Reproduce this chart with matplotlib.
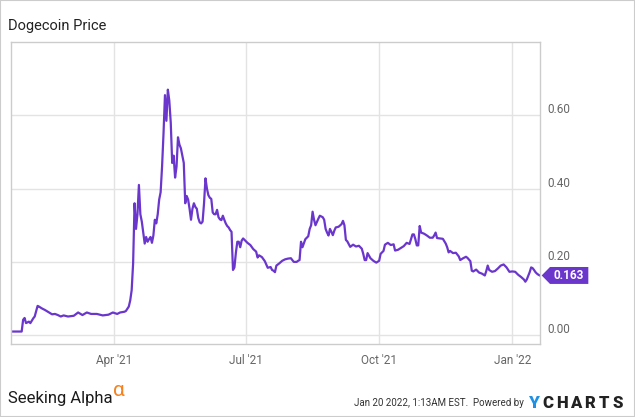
import matplotlib
matplotlib.use("Agg")
import matplotlib.pyplot as plt
import pandas as pd
from matplotlib.patches import Polygon, Rectangle
from matplotlib.transforms import Affine2D, ScaledTranslation, blended_transform_factory

# Dogecoin daily close (USD)
dates = [
    "2021-01-20", "2021-01-23", "2021-01-27", "2021-01-28", "2021-01-29", "2021-01-30",
    "2021-02-01", "2021-02-02", "2021-02-04", "2021-02-05", "2021-02-07", "2021-02-08",
    "2021-02-10", "2021-02-12", "2021-02-15", "2021-02-17", "2021-02-19", "2021-02-21",
    "2021-02-23", "2021-02-25", "2021-02-28", "2021-03-04", "2021-03-07", "2021-03-10",
    "2021-03-13", "2021-03-16", "2021-03-20", "2021-03-24", "2021-03-28", "2021-03-31",
    "2021-04-03", "2021-04-05", "2021-04-08", "2021-04-09", "2021-04-10", "2021-04-11",
    "2021-04-12", "2021-04-13", "2021-04-14", "2021-04-15", "2021-04-16", "2021-04-17",
    "2021-04-18", "2021-04-19", "2021-04-20", "2021-04-21", "2021-04-22", "2021-04-23",
    "2021-04-24", "2021-04-25", "2021-04-26", "2021-04-27", "2021-04-28", "2021-04-29",
    "2021-04-30", "2021-05-01", "2021-05-02", "2021-05-03", "2021-05-04", "2021-05-05",
    "2021-05-06", "2021-05-07", "2021-05-08", "2021-05-09", "2021-05-10", "2021-05-11",
    "2021-05-12", "2021-05-13", "2021-05-14", "2021-05-15", "2021-05-16", "2021-05-17",
    "2021-05-18", "2021-05-19", "2021-05-20", "2021-05-21", "2021-05-22", "2021-05-23",
    "2021-05-24", "2021-05-25", "2021-05-26", "2021-05-27", "2021-05-28", "2021-05-29",
    "2021-05-30", "2021-05-31", "2021-06-01", "2021-06-02", "2021-06-03", "2021-06-04",
    "2021-06-05", "2021-06-06", "2021-06-07", "2021-06-08", "2021-06-09", "2021-06-10",
    "2021-06-11", "2021-06-12", "2021-06-13", "2021-06-14", "2021-06-15", "2021-06-16",
    "2021-06-17", "2021-06-18", "2021-06-19", "2021-06-20", "2021-06-21", "2021-06-22",
    "2021-06-23", "2021-06-24", "2021-06-25", "2021-06-26", "2021-06-27", "2021-06-28",
    "2021-06-29", "2021-06-30", "2021-07-02", "2021-07-04", "2021-07-06", "2021-07-08",
    "2021-07-09", "2021-07-10", "2021-07-12", "2021-07-14", "2021-07-16", "2021-07-18",
    "2021-07-19", "2021-07-20", "2021-07-21", "2021-07-22", "2021-07-24", "2021-07-26",
    "2021-07-28", "2021-07-30", "2021-08-01", "2021-08-03", "2021-08-05", "2021-08-06",
    "2021-08-07", "2021-08-08", "2021-08-09", "2021-08-11", "2021-08-13", "2021-08-14",
    "2021-08-15", "2021-08-16", "2021-08-17", "2021-08-18", "2021-08-20", "2021-08-21",
    "2021-08-23", "2021-08-24", "2021-08-25", "2021-08-26", "2021-08-27", "2021-08-28",
    "2021-08-29", "2021-08-30", "2021-08-31", "2021-09-01", "2021-09-03", "2021-09-05",
    "2021-09-06", "2021-09-07", "2021-09-08", "2021-09-09", "2021-09-11", "2021-09-13",
    "2021-09-15", "2021-09-17", "2021-09-19", "2021-09-20", "2021-09-21", "2021-09-22",
    "2021-09-23", "2021-09-25", "2021-09-27", "2021-09-29", "2021-10-01", "2021-10-02",
    "2021-10-04", "2021-10-05", "2021-10-07", "2021-10-09", "2021-10-11", "2021-10-12",
    "2021-10-14", "2021-10-16", "2021-10-18", "2021-10-20", "2021-10-22", "2021-10-24",
    "2021-10-25", "2021-10-26", "2021-10-27", "2021-10-28", "2021-10-29", "2021-10-30",
    "2021-11-01", "2021-11-03", "2021-11-05", "2021-11-07", "2021-11-08", "2021-11-09",
    "2021-11-10", "2021-11-12", "2021-11-14", "2021-11-16", "2021-11-17", "2021-11-18",
    "2021-11-19", "2021-11-21", "2021-11-23", "2021-11-25", "2021-11-26", "2021-11-28",
    "2021-11-30", "2021-12-01", "2021-12-03", "2021-12-04", "2021-12-05", "2021-12-07",
    "2021-12-09", "2021-12-11", "2021-12-13", "2021-12-14", "2021-12-15", "2021-12-16",
    "2021-12-18", "2021-12-20", "2021-12-22", "2021-12-24", "2021-12-26", "2021-12-28",
    "2021-12-30", "2022-01-01", "2022-01-03", "2022-01-05", "2022-01-07", "2022-01-09",
    "2022-01-10", "2022-01-11", "2022-01-12", "2022-01-13", "2022-01-14", "2022-01-15",
    "2022-01-16", "2022-01-17", "2022-01-18", "2022-01-19", "2022-01-20",
]
prices = [
    0.010, 0.010, 0.010, 0.042, 0.047, 0.033,
    0.037, 0.033, 0.046, 0.051, 0.080, 0.078,
    0.073, 0.069, 0.062, 0.057, 0.058, 0.055,
    0.051, 0.054, 0.051, 0.053, 0.062, 0.055,
    0.062, 0.058, 0.058, 0.054, 0.056, 0.062,
    0.058, 0.062, 0.064, 0.066, 0.072, 0.078,
    0.095, 0.123, 0.196, 0.360, 0.290, 0.330,
    0.410, 0.330, 0.310, 0.280, 0.250, 0.268,
    0.255, 0.262, 0.268, 0.252, 0.272, 0.315,
    0.305, 0.330, 0.370, 0.390, 0.460, 0.550,
    0.655, 0.585, 0.670, 0.640, 0.580, 0.470,
    0.490, 0.430, 0.460, 0.540, 0.520, 0.510,
    0.490, 0.470, 0.360, 0.380, 0.370, 0.345,
    0.315, 0.345, 0.360, 0.350, 0.345, 0.320,
    0.308, 0.305, 0.310, 0.360, 0.428, 0.400,
    0.382, 0.375, 0.372, 0.335, 0.330, 0.330,
    0.342, 0.322, 0.316, 0.314, 0.326, 0.315,
    0.305, 0.298, 0.294, 0.287, 0.282, 0.178,
    0.185, 0.225, 0.255, 0.255, 0.240, 0.258,
    0.264, 0.260, 0.252, 0.246, 0.235, 0.228,
    0.212, 0.218, 0.213, 0.202, 0.184, 0.186,
    0.178, 0.176, 0.172, 0.190, 0.196, 0.203,
    0.207, 0.209, 0.210, 0.200, 0.200, 0.203,
    0.205, 0.255, 0.240, 0.262, 0.270, 0.290,
    0.300, 0.337, 0.315, 0.300, 0.318, 0.326,
    0.322, 0.315, 0.290, 0.280, 0.272, 0.290,
    0.282, 0.273, 0.285, 0.294, 0.296, 0.303,
    0.312, 0.300, 0.260, 0.256, 0.241, 0.247,
    0.242, 0.244, 0.236, 0.222, 0.205, 0.205,
    0.224, 0.210, 0.203, 0.198, 0.203, 0.222,
    0.230, 0.247, 0.252, 0.246, 0.248, 0.231,
    0.233, 0.238, 0.243, 0.252, 0.249, 0.275,
    0.275, 0.262, 0.245, 0.245, 0.298, 0.280,
    0.277, 0.272, 0.266, 0.266, 0.272, 0.280,
    0.265, 0.264, 0.263, 0.250, 0.240, 0.226,
    0.230, 0.224, 0.225, 0.215, 0.205, 0.210,
    0.214, 0.211, 0.202, 0.176, 0.174, 0.179,
    0.171, 0.168, 0.163, 0.175, 0.190, 0.178,
    0.173, 0.175, 0.182, 0.190, 0.193, 0.185,
    0.173, 0.174, 0.173, 0.165, 0.159, 0.152,
    0.146, 0.152, 0.162, 0.172, 0.185, 0.183,
    0.178, 0.172, 0.168, 0.165, 0.163,
]

xtick_dates = ["2021-04-01", "2021-07-01", "2021-10-01", "2022-01-01"]
xtick_labels = ["Apr '21", "Jul '21", "Oct '21", "Jan '22"]
ytick_vals = [0.0, 0.2, 0.4, 0.6]

PURPLE = "#6a36cc"
plt.rcParams["font.family"] = ["Roboto", "DejaVu Sans"]

fig = plt.figure(figsize=(6.35, 4.17), dpi=100)
ax = fig.add_axes([10.7 / 635, 1 - 344 / 417, 529.3 / 635, 302 / 417])

ax.plot(pd.to_datetime(dates), prices, color=PURPLE, lw=1.6, solid_joinstyle="round")

ax.set_xlim(pd.Timestamp("2021-01-19 10:00"), pd.Timestamp("2022-01-20 03:00"))
ax.set_ylim(-0.024, 0.8)
ax.set_xticks(pd.to_datetime(xtick_dates))
ax.set_xticklabels(xtick_labels)
ax.yaxis.tick_right()
ax.set_yticks(ytick_vals)
ax.set_yticklabels([f"{v:.2f}" for v in ytick_vals])
ax.tick_params(length=0, labelsize=8.5, labelcolor="#666666")
ax.tick_params(axis="x", pad=7)
ax.tick_params(axis="y", pad=5)
# y labels sit a little above their gridlines
for lab in ax.get_yticklabels():
    lab.set_transform(lab.get_transform() + ScaledTranslation(0, 5 / 72, fig.dpi_scale_trans))
ax.grid(color="#e3e3e3", lw=1)
ax.set_axisbelow(True)
for s in ax.spines.values():
    s.set_color("#cccccc")
    s.set_linewidth(1)

# last value tag on the right axis
base = blended_transform_factory(ax.transAxes, ax.transData)
tag_tr = Affine2D().scale(1 / 72) + fig.dpi_scale_trans + ScaledTranslation(1, prices[-1], base)
tag = Polygon([(1.2, 0), (7.2, 6.1), (34.8, 6.1), (34.8, -6.1), (7.2, -6.1)],
              closed=True, fc=PURPLE, ec="none", transform=tag_tr, clip_on=False)
ax.add_patch(tag)
ax.text(1, prices[-1], f"{prices[-1]:.3f}", color="white", fontsize=8.5, fontweight="bold",
        ha="center", va="center",
        transform=base + ScaledTranslation(21 / 72, 0, fig.dpi_scale_trans))

# frame and texts
fig.patches.append(Rectangle((0, 0), 1, 1, transform=fig.transFigure, fill=False,
                             ec="#cccccc", lw=1.5))
fig.text(8 / 635, 1 - 26 / 417, "Dogecoin Price", fontsize=10.5, va="center", color="#222222")
fig.text(8 / 635, 1 - 398.5 / 417, "Seeking Alpha", fontsize=12, va="center", color="#1a1a1a")
fig.text(113 / 635, 1 - 390 / 417, "α", fontsize=15, va="center", color="#f58220")
fig.text(524 / 635, 1 - 403.5 / 417, "Jan 20 2022, 1:13AM EST.  Powered by", ha="right",
         va="center", fontsize=7, color="#333333")
fig.text(534.3 / 635, 1 - 403 / 417, "Y", ha="center", va="center", fontsize=12.5,
         fontweight="heavy", color="#1e90e6")
for i, ch in enumerate("CHARTS"):
    fig.text((547.7 + i * 14.05) / 635, 1 - 403 / 417, ch, ha="center", va="center",
             fontsize=12, fontweight="heavy", color="#222222")

fig.savefig("out.png", dpi=100)
